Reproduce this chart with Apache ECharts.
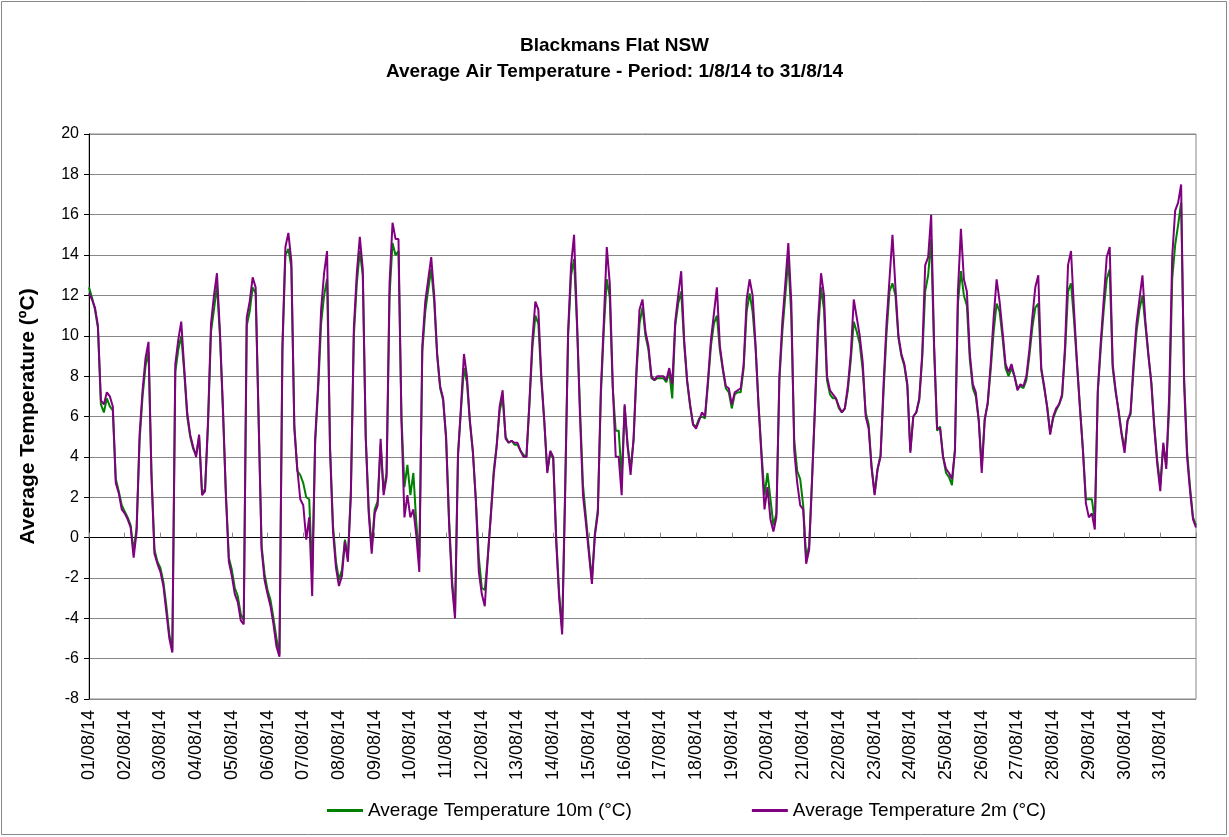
<!DOCTYPE html>
<html>
<head>
    <meta charset="utf-8"/>
    <title>Blackmans Flat NSW</title>
    <script src="https://cdn.jsdelivr.net/npm/echarts@6/dist/echarts.min.js"></script>
</head>
<body style="margin:0;background:#fff;">

<div id="main" style="width:1229px;height:837px;"></div>

<script>
    // readings every 2 hours from 01/08/14 00:00, one row per day (12 values), last value = 01/09 00:00
    var temp2m = [
        12.1, 11.8, 11.4, 10.5, 6.8, 6.6, 7.2, 7.0, 6.5, 2.7, 2.2, 1.4,
        1.2, 0.9, 0.5, -1.0, 0.3, 5.1, 7.3, 8.9, 9.7, 3.0, -0.8, -1.3,
        -1.7, -2.4, -3.7, -5.0, -5.7, 8.6, 9.8, 10.7, 8.4, 6.2, 5.1, 4.5,
        4.0, 5.1, 2.1, 2.3, 5.8, 10.6, 12.0, 13.1, 10.2, 6.5, 2.1, -1.2,
        -1.9, -2.8, -3.2, -4.1, -4.3, 10.9, 11.7, 12.9, 12.4, 5.8, -0.6, -2.1,
        -2.8, -3.4, -4.3, -5.4, -5.9, 9.5, 14.4, 15.1, 13.7, 5.4, 3.4, 1.9,
        1.6, -0.1, 1.0, -2.9, 4.9, 7.6, 11.3, 13.1, 14.2, 4.3, 0.3, -1.5,
        -2.4, -1.9, -0.2, -1.2, 2.1, 10.4, 13.1, 14.9, 13.3, 4.9, 1.2, -0.8,
        1.2, 1.6, 4.9, 2.1, 3.0, 12.6, 15.6, 14.8, 14.8, 5.8, 1.0, 2.1,
        1.0, 1.4, 0.1, -1.7, 9.5, 11.7, 12.8, 13.9, 12.0, 9.1, 7.5, 6.9,
        4.9, 0.7, -2.4, -4.0, 4.0, 6.5, 9.1, 8.0, 5.8, 4.3, 1.8, -1.7,
        -2.8, -3.4, -1.0, 1.0, 3.1, 4.5, 6.5, 7.3, 4.9, 4.7, 4.8, 4.7,
        4.7, 4.3, 4.0, 4.0, 6.7, 9.8, 11.7, 11.3, 8.0, 5.8, 3.2, 4.3,
        4.0, -0.2, -3.0, -4.8, 2.1, 10.2, 13.5, 15.0, 10.7, 6.0, 2.1, 0.7,
        -0.8, -2.3, 0.1, 1.2, 7.3, 10.7, 14.4, 12.6, 7.6, 4.0, 4.0, 2.1,
        6.6, 4.5, 3.1, 4.9, 8.4, 11.3, 11.8, 10.2, 9.5, 8.0, 7.8, 8.0,
        8.0, 8.0, 7.8, 8.4, 7.6, 10.7, 12.0, 13.2, 9.8, 7.8, 6.6, 5.6,
        5.4, 5.8, 6.2, 6.0, 7.8, 9.8, 11.1, 12.4, 9.5, 8.4, 7.5, 7.4,
        6.6, 7.2, 7.3, 7.4, 8.6, 11.8, 12.8, 12.0, 9.5, 6.5, 4.0, 1.4,
        2.5, 0.9, 0.3, 1.0, 8.0, 10.7, 12.6, 14.6, 11.7, 4.3, 2.7, 1.6,
        1.4, -1.3, -0.6, 2.9, 6.7, 10.7, 13.1, 12.0, 8.0, 7.3, 7.1, 6.9,
        6.5, 6.2, 6.4, 7.5, 9.1, 11.8, 10.9, 10.0, 8.7, 6.0, 5.4, 3.4,
        2.1, 3.4, 4.0, 7.6, 10.6, 12.8, 15.0, 12.4, 10.0, 9.1, 8.6, 7.6,
        4.2, 6.0, 6.2, 6.9, 9.1, 13.5, 13.9, 16.0, 9.5, 5.4, 5.4, 4.0,
        3.4, 3.2, 2.9, 4.3, 12.2, 15.3, 12.8, 12.2, 9.1, 7.6, 7.2, 5.8,
        3.2, 5.8, 6.7, 8.6, 10.9, 12.8, 11.7, 10.2, 8.6, 8.2, 8.6, 8.0,
        7.3, 7.6, 7.5, 8.0, 9.3, 10.9, 12.4, 13.0, 8.4, 7.5, 6.4, 5.1,
        6.0, 6.4, 6.6, 7.1, 9.5, 13.5, 14.2, 11.3, 8.7, 6.4, 4.3, 1.7,
        1.0, 1.2, 0.4, 7.3, 9.7, 11.8, 13.9, 14.4, 8.6, 7.3, 6.2, 5.1,
        4.2, 5.8, 6.2, 8.6, 10.6, 11.8, 13.0, 10.7, 9.1, 7.6, 5.4, 3.6,
        2.3, 4.7, 3.4, 7.1, 13.9, 16.2, 16.6, 17.5, 7.6, 4.0, 2.3, 0.9,
        0.5
    ];

    var temp10m = [
        12.4, 11.9, 11.3, 10.4, 6.6, 6.2, 6.9, 6.5, 6.3, 2.9, 2.3, 1.6,
        1.3, 1.0, 0.6, -0.7, 0.5, 4.8, 7.0, 8.5, 9.2, 3.2, -0.6, -1.2,
        -1.5, -2.2, -3.4, -4.8, -5.6, 8.2, 9.3, 10.0, 8.2, 6.0, 5.0, 4.4,
        4.1, 5.0, 2.2, 2.4, 5.6, 10.2, 11.3, 12.5, 10.0, 6.3, 2.2, -1.0,
        -1.6, -2.5, -2.9, -3.8, -4.1, 10.5, 11.2, 12.4, 12.1, 5.9, -0.4, -1.8,
        -2.6, -3.1, -4.0, -5.0, -5.8, 9.3, 14.0, 14.3, 13.4, 5.6, 3.3, 3.1,
        2.7, 2.0, 1.9, -1.8, 4.7, 7.3, 10.6, 12.0, 12.8, 4.5, 0.6, -1.2,
        -2.1, -1.6, -0.1, -1.0, 2.3, 10.0, 12.6, 14.2, 13.0, 5.0, 1.4, -0.5,
        1.4, 1.8, 4.6, 2.3, 3.2, 12.0, 14.6, 14.0, 14.2, 6.0, 2.5, 3.6,
        2.1, 3.2, 0.7, -1.0, 9.2, 11.2, 12.3, 13.3, 11.7, 9.0, 7.4, 6.8,
        5.0, 0.9, -2.1, -3.8, 4.2, 6.3, 8.4, 7.7, 5.7, 4.2, 1.9, -1.0,
        -2.5, -2.6, -1.0, 1.1, 3.3, 4.6, 6.3, 6.9, 5.0, 4.7, 4.8, 4.6,
        4.6, 4.3, 4.1, 4.0, 6.6, 9.4, 11.0, 10.6, 7.8, 5.7, 3.3, 4.2,
        3.9, 0.0, -2.8, -4.5, 2.4, 10.0, 13.0, 13.8, 10.5, 6.4, 2.6, 1.0,
        -0.6, -2.1, 0.2, 1.4, 7.0, 10.3, 12.8, 11.9, 7.4, 5.3, 5.3, 3.0,
        6.5, 4.6, 3.4, 4.8, 8.2, 10.6, 11.4, 10.0, 9.3, 7.9, 7.8, 7.9,
        7.9, 7.9, 7.7, 8.2, 6.9, 10.5, 11.6, 12.2, 9.6, 7.7, 6.5, 5.6,
        5.5, 5.9, 6.0, 5.9, 7.6, 9.5, 10.6, 11.0, 9.3, 8.3, 7.4, 7.2,
        6.4, 7.1, 7.2, 7.2, 8.4, 11.2, 12.1, 11.2, 9.4, 6.6, 4.2, 2.1,
        3.2, 1.9, 0.6, 1.2, 7.8, 10.2, 12.0, 13.8, 11.0, 4.8, 3.3, 2.9,
        1.6, -1.0, -0.4, 3.0, 6.5, 10.2, 12.4, 11.3, 7.8, 7.1, 6.9, 6.9,
        6.4, 6.2, 6.4, 7.3, 8.8, 10.7, 10.2, 9.6, 8.3, 6.2, 5.6, 3.5,
        2.2, 3.4, 4.1, 7.2, 10.1, 12.2, 12.6, 12.0, 9.9, 9.0, 8.5, 7.5,
        4.3, 6.0, 6.2, 6.8, 8.9, 12.2, 13.0, 14.8, 9.3, 5.3, 5.5, 4.0,
        3.2, 3.0, 2.6, 4.4, 11.6, 13.2, 12.0, 11.5, 8.8, 7.4, 7.0, 5.8,
        3.5, 5.9, 6.6, 8.3, 10.2, 11.6, 11.2, 9.9, 8.4, 8.0, 8.4, 8.0,
        7.4, 7.5, 7.4, 7.8, 9.0, 10.4, 11.4, 11.6, 8.3, 7.4, 6.5, 5.2,
        5.9, 6.3, 6.6, 7.0, 9.2, 12.2, 12.6, 10.8, 8.6, 6.5, 4.4, 1.9,
        1.9, 1.9, 0.8, 7.2, 9.4, 11.3, 12.8, 13.3, 8.4, 7.2, 6.3, 5.2,
        4.4, 5.8, 6.1, 8.3, 10.2, 11.3, 12.0, 10.5, 9.0, 7.7, 5.5, 3.8,
        2.6, 4.6, 3.6, 6.4, 12.8, 14.5, 15.5, 16.6, 8.0, 4.3, 2.5, 1.0,
        0.6
    ];

    var dayLabels = [
        '01/08/14', '02/08/14', '03/08/14', '04/08/14', '05/08/14', '06/08/14', '07/08/14', '08/08/14',
        '09/08/14', '10/08/14', '11/08/14', '12/08/14', '13/08/14', '14/08/14', '15/08/14', '16/08/14',
        '17/08/14', '18/08/14', '19/08/14', '20/08/14', '21/08/14', '22/08/14', '23/08/14', '24/08/14',
        '25/08/14', '26/08/14', '27/08/14', '28/08/14', '29/08/14', '30/08/14', '31/08/14'
    ];

    var seriesNames = ['Average Temperature 10m (°C)', 'Average Temperature 2m (°C)'];
    var stepHours = 2;

    var font = 'Arial, "Liberation Sans", sans-serif';

    function toPoints(arr) {
        return arr.map(function (v, i) { return [i * stepHours, v]; });
    }

    var myChart = echarts.init(document.getElementById('main'));

    var option = {
        backgroundColor: '#fff',
        animation: false,
        title: {
            text: 'Blackmans Flat NSW\nAverage Air Temperature - Period: 1/8/14 to 31/8/14',
            left: 'center',
            top: 28,
            textStyle: {
                fontFamily: font, fontSize: 19, fontWeight: 'bold', color: '#000', lineHeight: 26
            }
        },
        legend: {
            data: seriesNames,
            left: 322,
            top: 796,
            itemWidth: 36,
            itemHeight: 3,
            itemGap: 120,
            icon: 'rect',
            textStyle: { fontFamily: font, fontSize: 19, color: '#000' }
        },
        graphic: [{
            type: 'rect',
            shape: { x: 1.5, y: 1.5, width: 1225, height: 833 },
            style: { fill: 'none', stroke: '#888', lineWidth: 1 },
            silent: true
        }],
        grid: { left: 89, top: 134, right: 33, bottom: 138, show: true, borderColor: '#888', borderWidth: 1 },
        xAxis: [{
            type: 'value',
            min: 0, max: 744, interval: 24,
            axisLine: { onZero: true, lineStyle: { color: '#000', width: 1 } },
            axisTick: { show: true, inside: true, length: 5, lineStyle: { color: '#888' } },
            axisLabel: { show: false },
            splitLine: { show: false }
        }, {
            type: 'value',
            position: 'bottom',
            min: 0, max: 744, interval: 24,
            axisLine: { show: false, onZero: false },
            axisTick: { show: false },
            splitLine: { show: false },
            axisLabel: {
                rotate: 90,
                margin: 11,
                fontFamily: font, fontSize: 18, color: '#000',
                showMaxLabel: false,
                formatter: function (v) { return dayLabels[v / 24] || ''; }
            }
        }],
        yAxis: {
            type: 'value',
            min: -8, max: 20, interval: 2,
            name: 'Average Temperature (ºC)',
            nameLocation: 'middle',
            nameGap: 50,
            nameTextStyle: { fontFamily: font, fontSize: 21, fontWeight: 'bold', color: '#000' },
            axisLine: { show: true, lineStyle: { color: '#000' } },
            axisTick: { show: true, length: 5, lineStyle: { color: '#000' } },
            axisLabel: { fontFamily: font, fontSize: 16, color: '#000', margin: 10 },
            splitLine: { lineStyle: { color: '#888', width: 1 } }
        },
        series: [{
            name: seriesNames[0],
            type: 'line',
            xAxisIndex: 0,
            data: toPoints(temp10m),
            showSymbol: false,
            symbol: 'none',
            color: '#008000',
            lineStyle: { color: '#008000', width: 2 }
        }, {
            name: seriesNames[1],
            type: 'line',
            xAxisIndex: 0,
            data: toPoints(temp2m),
            showSymbol: false,
            symbol: 'none',
            color: '#800080',
            lineStyle: { color: '#800080', width: 2 }
        }]
    };

    myChart.setOption(option);
</script>
</body>
</html>
